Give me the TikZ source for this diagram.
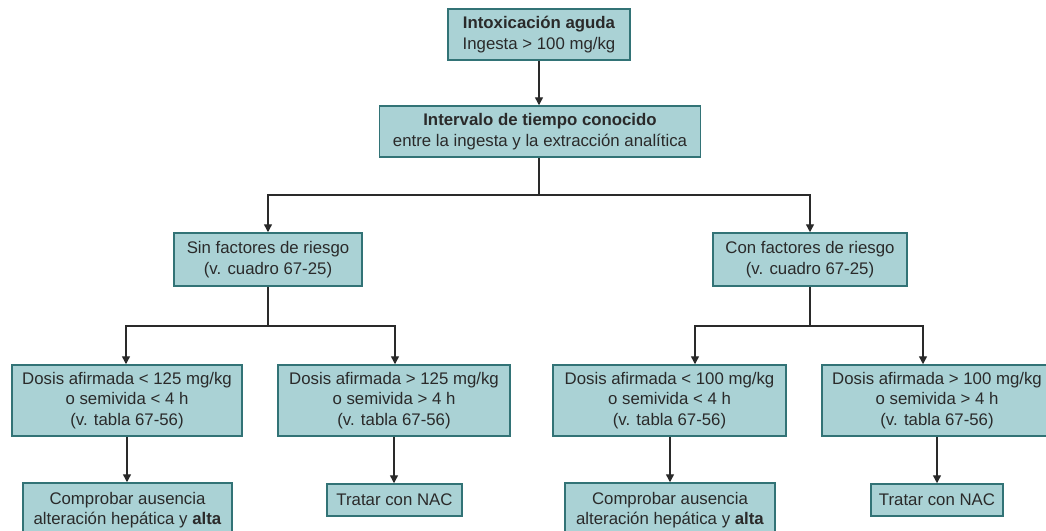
\documentclass[tikz,border=0pt]{standalone}
\usepackage{fontspec}
\setmainfont{Liberation Sans}
\usetikzlibrary{arrows.meta}
\definecolor{boxfill}{HTML}{AAD2D5}
\definecolor{boxline}{HTML}{327376}
\definecolor{txt}{HTML}{2A2A2A}
\begin{document}
\begin{tikzpicture}[x=1pt,y=-1pt,
  box/.style={draw=boxline, fill=boxfill, line width=1.5pt, align=center, text=txt,
    font=\fontsize{16.8}{20.5}\selectfont, inner sep=0pt},
  conn/.style={draw=txt, line width=1.4pt},
  arr/.style={conn, -{Triangle[length=8pt,width=8pt]}}]
\useasboundingbox (0,0) rectangle (1046,530);
\node[box, minimum width=182pt, minimum height=51pt] (top) at (539,34.5)
  {\textbf{Intoxicación aguda}\\Ingesta > 100 mg/kg};
\node[box, minimum width=321pt, minimum height=51pt] (int) at (540,131.5)
  {\textbf{Intervalo de tiempo conocido}\\entre la ingesta y la extracción analítica};
\node[box, minimum width=188pt, minimum height=53pt] (L1) at (268,259.5)
  {Sin factores de riesgo\\(v. cuadro 67-25)};
\node[box, minimum width=194pt, minimum height=53pt] (R1) at (810,259.5)
  {Con factores de riesgo\\(v. cuadro 67-25)};
\node[box, minimum width=230pt, minimum height=71pt] (L2a) at (127,400.5)
  {Dosis afirmada < 125 mg/kg\\o semivida < 4 h\\(v. tabla 67-56)};
\node[box, minimum width=232pt, minimum height=71pt] (L2b) at (394,400.5)
  {Dosis afirmada > 125 mg/kg\\o semivida > 4 h\\(v. tabla 67-56)};
\node[box, minimum width=233pt, minimum height=71pt] (R2a) at (669.5,400.5)
  {Dosis afirmada < 100 mg/kg\\o semivida < 4 h\\(v. tabla 67-56)};
\node[box, minimum width=230pt, minimum height=71pt] (R2b) at (937,400.5)
  {Dosis afirmada > 100 mg/kg\\o semivida > 4 h\\(v. tabla 67-56)};
\node[box, minimum width=209pt, minimum height=54pt] (L3a) at (127.5,510)
  {Comprobar ausencia\\alteración hepática y \textbf{alta}};
\node[box, minimum width=135pt, minimum height=32pt] (L3b) at (394.5,500)
  {Tratar con NAC};
\node[box, minimum width=210pt, minimum height=54pt] (R3a) at (670,510)
  {Comprobar ausencia\\alteración hepática y \textbf{alta}};
\node[box, minimum width=132pt, minimum height=32pt] (R3b) at (937,500)
  {Tratar con NAC};
\coordinate (j0) at (539,195);
\coordinate (j1) at (268,326);
\coordinate (j2) at (810,326);
\draw[arr] (top.south) -- (top.south |- int.north);
\draw[conn] (int.south -| j0) -- (j0);
\draw[arr] (j0) -| (L1.north);
\draw[arr] (j0) -| (R1.north);
\draw[conn] (L1.south) -- (j1);
\draw[arr] (j1) -| ([xshift=-1pt]L2a.north);
\draw[arr] (j1) -| ([xshift=1pt]L2b.north);
\draw[conn] (R1.south) -- (j2);
\draw[arr] (j2) -| ([xshift=25.5pt]R2a.north);
\draw[arr] (j2) -| ([xshift=-14pt]R2b.north);
\draw[arr] (L2a.south) -- (L2a.south |- L3a.north);
\draw[arr] (L2b.south) -- (L2b.south |- L3b.north);
\draw[arr] ([xshift=0.5pt]R2a.south) -- ([xshift=0.5pt]R2a.south |- R3a.north);
\draw[arr] (R2b.south) -- (R2b.south |- R3b.north);
\end{tikzpicture}
\end{document}
